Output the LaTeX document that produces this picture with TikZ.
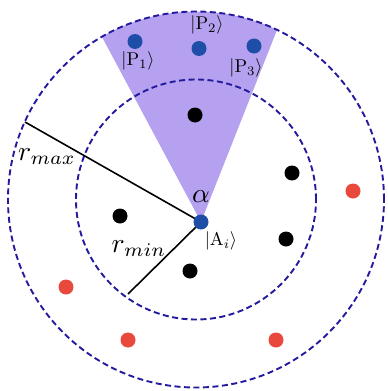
\documentclass[tikz,border=0pt]{standalone}
\usepackage{amsmath}
\definecolor{wedgec}{RGB}{181,161,239}
\definecolor{ringc}{RGB}{36,26,158}
\definecolor{qblue}{RGB}{30,78,168}
\definecolor{qred}{RGB}{233,72,60}
\begin{document}
\begin{tikzpicture}[x=1pt,y=-1pt,
  ring/.style={draw=ringc, dash pattern=on 6pt off 3.5pt, line width=1.9pt},
  qdot/.style={circle, fill=#1, minimum size=15pt, inner sep=0pt},
  lbl/.style={scale=1.85, inner sep=0pt},
  biglbl/.style={scale=2.75, inner sep=0pt},
  radline/.style={draw=black, line width=1.6pt}]
\useasboundingbox (0,0) rectangle (388,391);
\coordinate (O) at (196,199.5);
\begin{scope}
  \clip (O) circle[radius=188pt];
  \fill[wedgec] (201,222) -- (3,-148) -- (353,-162) -- cycle;
\end{scope}
\draw[ring] (O) circle[radius=188pt];
\draw[ring] (O) circle[radius=120pt];
\coordinate (rmaxend) at (25,122);
\coordinate (rminend) at (128,294);
\coordinate (Ac) at (201,222);
\draw[radline] (Ac) -- (rmaxend);
\draw[radline] (Ac) -- (rminend);
\node[qdot=qblue] (Ai) at (Ac) {};
% blue P dots
\node[qdot=qblue] (P1) at (135,41.5) {};
\node[qdot=qblue] (P2) at (199,48.5) {};
\node[qdot=qblue] (P3) at (254,46) {};
% black dots
\node[qdot=black] (b1) at (195,115) {};
\node[qdot=black] (b2) at (292,173) {};
\node[qdot=black] (b3) at (120,216) {};
\node[qdot=black] (b4) at (286,239) {};
\node[qdot=black] (b5) at (190,271) {};
% red dots
\node[qdot=qred] (r1) at (353,191) {};
\node[qdot=qred] (r2) at (66,287) {};
\node[qdot=qred] (r3) at (128,340) {};
\node[qdot=qred] (r4) at (276,340) {};
% labels
\node[lbl] (lP1) at (138,61) {$|\mathrm{P}_1\rangle$};
\node[lbl] (lP2) at (207,25) {$|\mathrm{P}_2\rangle$};
\node[lbl] (lP3) at (246,68) {$|\mathrm{P}_3\rangle$};
\node[lbl] (lA) at (221,241) {$|\mathrm{A}_i\rangle$};
\node[biglbl] (lalpha) at (201,197) {$\alpha$};
\node[biglbl] (lrmax) at (47,157) {$r_{max}$};
\node[biglbl] (lrmin) at (139,249) {$r_{min}$};
\end{tikzpicture}
\end{document}
